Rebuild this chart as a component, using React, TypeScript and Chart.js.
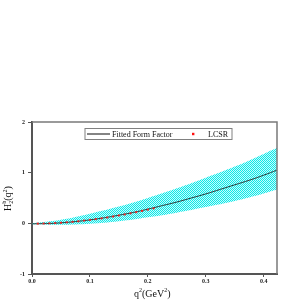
import React, { useEffect, useRef } from "react";
import { Chart, registerables } from "chart.js";

Chart.register(...registerables);

// Fitted form factor curve
const fitQ2 = [0, 0.025, 0.05, 0.075, 0.1, 0.125, 0.15, 0.175, 0.2, 0.225, 0.25, 0.275, 0.3, 0.325, 0.35, 0.375, 0.4, 0.423];
const fitH = [-0.01, -0.005, 0.01, 0.035, 0.068, 0.11, 0.16, 0.215, 0.28, 0.35, 0.42, 0.5, 0.58, 0.67, 0.76, 0.85, 0.95, 1.05];

// Uncertainty band
const bandQ2 = [0, 0.05, 0.1, 0.15, 0.2, 0.25, 0.3, 0.35, 0.4, 0.423];
const bandUpper = [0.0, 0.07, 0.19, 0.33, 0.5, 0.69, 0.9, 1.12, 1.37, 1.49];
const bandLower = [-0.02, -0.03, -0.01, 0.04, 0.12, 0.21, 0.32, 0.44, 0.59, 0.67];

// LCSR points
const lcsrQ2 = [0.01, 0.02, 0.03, 0.04, 0.05, 0.06, 0.07, 0.08, 0.09, 0.1, 0.11, 0.12, 0.13, 0.14, 0.15, 0.16, 0.17, 0.18, 0.19, 0.2, 0.21];
const lcsrH = [-0.005, -0.003, 0.0, 0.005, 0.012, 0.02, 0.03, 0.04, 0.055, 0.068, 0.083, 0.098, 0.115, 0.135, 0.155, 0.175, 0.197, 0.22, 0.245, 0.27, 0.295];

const xTicks = [0, 0.1, 0.2, 0.3, 0.4];
const yTicks = [-1, 0, 1, 2];

const legendLabels = ["Fitted Form Factor", "LCSR"];

const SERIF = "'Liberation Serif', 'Times New Roman', serif";

function makePattern(): CanvasPattern | string {
  const c = document.createElement("canvas");
  c.width = 2;
  c.height = 2;
  const g = c.getContext("2d");
  if (!g) return "#60f4f4";
  g.fillStyle = "#c4fdfd";
  g.fillRect(0, 0, 2, 2);
  g.fillStyle = "#10e6e6";
  g.fillRect(0, 0, 1, 1);
  g.fillRect(1, 1, 1, 1);
  const p = g.createPattern(c, "repeat");
  return p || "#60f4f4";
}

const framePlugin = {
  id: "frame",
  afterDraw(chart: any) {
    const { ctx, chartArea } = chart;
    const { left, right, top, bottom } = chartArea;
    ctx.save();
    // top & right border
    ctx.strokeStyle = "#7a7a7a";
    ctx.lineWidth = 1.5;
    ctx.beginPath();
    ctx.moveTo(left, top);
    ctx.lineTo(right, top);
    ctx.lineTo(right, bottom);
    ctx.stroke();

    // legend box
    const lx = 85, ly = 128.5, lw = 147, lh = 11;
    ctx.fillStyle = "#ffffff";
    ctx.fillRect(lx, ly, lw, lh);
    ctx.strokeStyle = "#808080";
    ctx.lineWidth = 1;
    ctx.strokeRect(lx, ly, lw, lh);
    const cy = ly + lh / 2;
    ctx.strokeStyle = "#333333";
    ctx.lineWidth = 1.2;
    ctx.beginPath();
    ctx.moveTo(87, cy);
    ctx.lineTo(110, cy);
    ctx.stroke();
    ctx.fillStyle = "#111111";
    ctx.font = "8px " + SERIF;
    ctx.textBaseline = "middle";
    ctx.textAlign = "left";
    ctx.fillText(legendLabels[0], 112, cy + 0.5);
    ctx.fillStyle = "#ff1010";
    ctx.fillRect(192, cy - 1.2, 2.4, 2.4);
    ctx.fillStyle = "#111111";
    ctx.fillText(legendLabels[1], 208, cy + 0.5);

    // x-axis title
    ctx.textAlign = "left";
    ctx.textBaseline = "alphabetic";
    let x = 134;
    const by = 297;
    ctx.font = "10px " + SERIF;
    ctx.fillText("q", x, by);
    x += ctx.measureText("q").width;
    ctx.font = "6px " + SERIF;
    ctx.fillText("2", x, by - 5);
    x += ctx.measureText("2").width;
    ctx.font = "10px " + SERIF;
    ctx.fillText("(GeV", x, by);
    x += ctx.measureText("(GeV").width;
    ctx.font = "6px " + SERIF;
    ctx.fillText("2", x, by - 5);
    x += ctx.measureText("2").width;
    ctx.font = "10px " + SERIF;
    ctx.fillText(")", x, by);

    // y-axis title (rotated)
    ctx.translate(11, 211);
    ctx.rotate(-Math.PI / 2);
    let t = 0;
    ctx.font = "10px " + SERIF;
    ctx.fillText("H", t, 0);
    t += ctx.measureText("H").width;
    ctx.font = "6px " + SERIF;
    ctx.fillText("2", t, 2);
    ctx.fillText("b", t, -5);
    t += ctx.measureText("b").width;
    ctx.font = "10px " + SERIF;
    ctx.fillText("(q", t, 0);
    t += ctx.measureText("(q").width;
    ctx.font = "6px " + SERIF;
    ctx.fillText("2", t, -4);
    t += ctx.measureText("2").width;
    ctx.font = "10px " + SERIF;
    ctx.fillText(")", t, 0);
    ctx.restore();
  },
};

export default function App() {
  const ref = useRef<HTMLCanvasElement | null>(null);

  useEffect(() => {
    document.body.style.margin = "0";
    const canvas = ref.current;
    if (!canvas) return;
    const pattern = makePattern();
    const chart = new Chart(canvas, {
      type: "scatter",
      data: {
        datasets: [
          {
            label: "upper",
            data: bandQ2.map((q, i) => ({ x: q, y: bandUpper[i] })),
            showLine: true,
            borderWidth: 0,
            borderColor: "rgba(0,0,0,0)",
            backgroundColor: pattern as any,
            pointRadius: 0,
            tension: 0.4,
            fill: "+1",
            order: 3,
          },
          {
            label: "lower",
            data: bandQ2.map((q, i) => ({ x: q, y: bandLower[i] })),
            showLine: true,
            borderWidth: 0,
            borderColor: "rgba(0,0,0,0)",
            pointRadius: 0,
            tension: 0.4,
            fill: false,
            order: 4,
          },
          {
            label: legendLabels[0],
            data: fitQ2.map((q, i) => ({ x: q, y: fitH[i] })),
            showLine: true,
            borderColor: "#2a3a3a",
            borderWidth: 1,
            pointRadius: 0,
            tension: 0.4,
            fill: false,
            order: 1,
          },
          {
            label: legendLabels[1],
            data: lcsrQ2.map((q, i) => ({ x: q, y: lcsrH[i] })),
            showLine: false,
            pointStyle: "rect",
            pointRadius: 1.4,
            borderWidth: 0,
            backgroundColor: "#f02020",
            borderColor: "#f02020",
            order: 0,
          },
        ],
      },
      options: {
        responsive: false,
        animation: false,
        events: [],
        layout: { padding: { top: 122, right: 23, left: 0, bottom: 0 } },
        plugins: {
          legend: { display: false },
          tooltip: { enabled: false },
          title: { display: false },
        },
        scales: {
          x: {
            type: "linear",
            min: 0,
            max: 0.423,
            afterFit(scale: any) {
              scale.height = 26;
            },
            afterBuildTicks(scale: any) {
              scale.ticks = xTicks.map((v) => ({ value: v }));
            },
            ticks: {
              autoSkip: false,
              maxRotation: 0,
              padding: 1,
              color: "#222",
              font: { family: SERIF, size: 6, weight: "bold" },
              callback: (v: any) => Number(v).toFixed(1),
            },
            grid: {
              drawOnChartArea: false,
              drawTicks: true,
              tickLength: 3,
              color: "#555",
              lineWidth: 1,
            },
            border: { display: true, color: "#555", width: 2 },
          },
          y: {
            type: "linear",
            min: -1,
            max: 2,
            afterFit(scale: any) {
              scale.width = 32;
            },
            afterBuildTicks(scale: any) {
              scale.ticks = yTicks.map((v) => ({ value: v }));
            },
            ticks: {
              autoSkip: false,
              padding: 3,
              color: "#222",
              font: { family: SERIF, size: 6, weight: "bold" },
              callback: (v: any) => String(v),
            },
            grid: {
              drawOnChartArea: false,
              drawTicks: true,
              tickLength: 4,
              color: "#555",
              lineWidth: 1,
            },
            border: { display: true, color: "#555", width: 2 },
          },
        },
      },
      plugins: [framePlugin],
    });
    return () => chart.destroy();
  }, []);

  return (
    <div style={{ width: 300, height: 300 }}>
      <canvas ref={ref} width={300} height={300} style={{ display: "block" }} />
    </div>
  );
}
